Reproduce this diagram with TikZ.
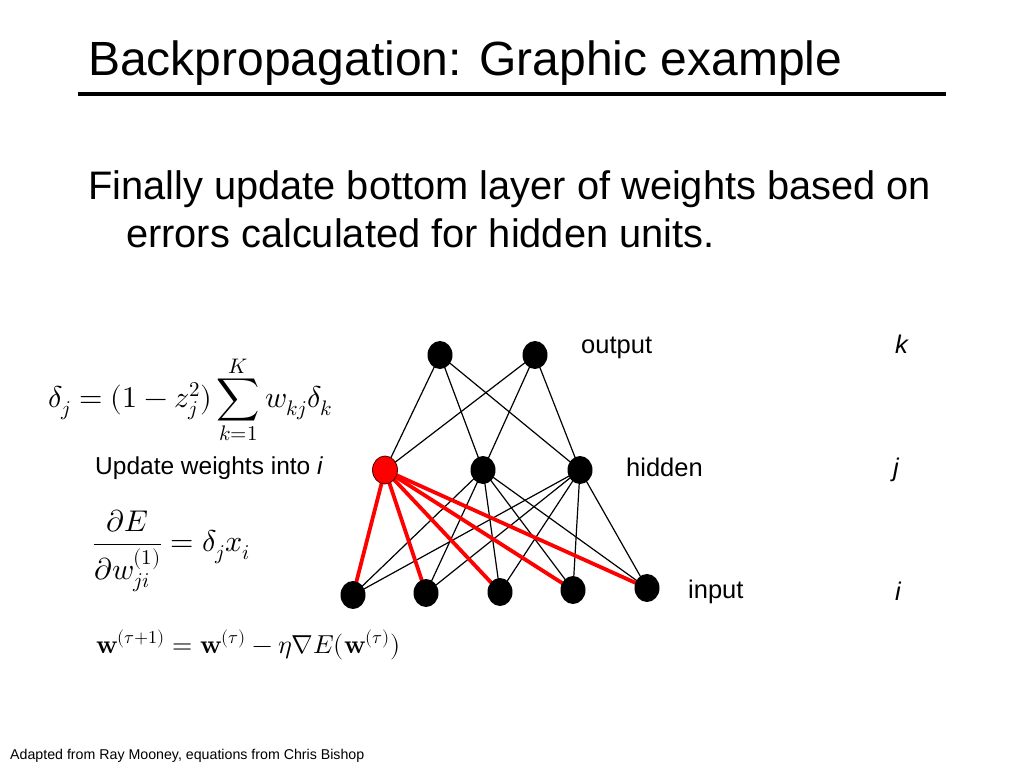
\documentclass[tikz,border=0pt]{standalone}
\usepackage{amsmath}
\usepackage{unicode-math}
\setmainfont{Liberation Sans}
\setmathfont{Latin Modern Math}
\usetikzlibrary{shapes.geometric,backgrounds}
\begin{document}
\begin{tikzpicture}[x=1pt,y=-1pt,
  unit/.style={ellipse,fill=black,minimum width=25pt,minimum height=28pt,inner sep=0pt},
  redunit/.style={unit,fill=red,draw=black!70!red,line width=0.8pt},
  wire/.style={line width=1.2pt,black},
  redwire/.style={line width=3.8pt,red},
  lbl/.style={font=\fontsize{25.5}{30}\selectfont,inner sep=0pt,anchor=west},
  eq/.style={inner sep=0pt,anchor=west,font=\fontsize{30}{36}\selectfont}]
\useasboundingbox (0,0) rectangle (1024,768);
\node[anchor=base west,inner sep=0pt,font=\fontsize{48}{54}\selectfont] (title) at (88,75) {Backpropagation: Graphic example};
\draw[line width=4pt] (78,94) coordinate (l1) -- (946,94) coordinate (l2);
\node[anchor=base west,inner sep=0pt,font=\fontsize{39.8}{44}\selectfont] (b1) at (88,199) {Finally update bottom layer of weights based on};
\node[anchor=base west,inner sep=0pt,font=\fontsize{39.8}{44}\selectfont] (b2) at (126,247) {errors calculated for hidden units.};
% network
\node[unit] (o1) at (440,355) {};
\node[unit] (o2) at (535,355) {};
\node[redunit] (h1) at (385,470) {};
\node[unit] (h2) at (483,470) {};
\node[unit] (h3) at (580,470) {};
\node[unit] (i1) at (353,595) {};
\node[unit] (i2) at (426,593) {};
\node[unit] (i3) at (500,592) {};
\node[unit] (i4) at (573,590) {};
\node[unit] (i5) at (647,588) {};
\begin{scope}[on background layer]
\foreach \o in {o1,o2}{\foreach \h in {h1,h2,h3}{\draw[wire] (\o.center) -- (\h.center);}}
\foreach \h in {h1,h2,h3}{\foreach \i in {i1,i2,i3,i4,i5}{\draw[wire] (\h.center) -- (\i.center);}}
\foreach \i in {i1,i2,i3,i4,i5}{\draw[redwire] (h1.center) -- (\i.center);}
\end{scope}
\node[lbl,anchor=base west] (lo) at (581,353) {output};
\node[lbl,anchor=base west] (lk) at (895,353) {\itshape k};
\node[lbl,anchor=base west] (lh) at (626,476) {hidden};
\node[lbl,anchor=base west] (lj) at (893,476) {\itshape j};
\node[lbl,anchor=base west] (li) at (688,598) {input};
\node[lbl,anchor=base west] (lii) at (895,600) {\itshape i};
\node[lbl,anchor=base west,font=\fontsize{24.5}{28}\selectfont] (upd) at (95,474) {Update weights into \itshape i};
% equations
\node[eq] (e1) at (48,400) {$\displaystyle \delta_j = (1-z_j^2)\sum_{k=1}^{K} w_{kj}\delta_k$};
\node[eq] (e2) at (93,551) {$\displaystyle \frac{\partial E}{\partial w^{(1)}_{ji}} = \delta_j x_i$};
\node[eq,font=\fontsize{26}{30}\selectfont] (e3) at (96,645) {$\symbf{w}^{(\tau+1)} = \symbf{w}^{(\tau)} - \eta\nabla E(\symbf{w}^{(\tau)})$};
\node[anchor=base west,inner sep=0pt,font=\fontsize{14.2}{16}\selectfont] (foot) at (10,759) {Adapted from Ray Mooney, equations from Chris Bishop};
\end{tikzpicture}
\end{document}
